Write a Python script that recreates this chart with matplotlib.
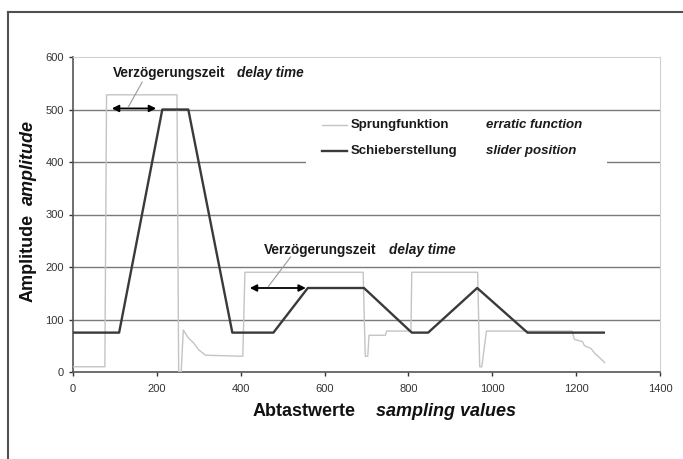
import matplotlib
matplotlib.use("Agg")
import matplotlib.pyplot as plt
from matplotlib.lines import Line2D
from matplotlib.patches import Rectangle

plt.rcParams['font.family'] = ['Liberation Sans', 'DejaVu Sans']

# Sprungfunktion (erratic function) - Eckpunkte aus dem Bild gelesen
sprung_x = [0, 76, 80, 248, 252, 258, 263, 275, 288, 300, 316, 405, 410,
            692, 697, 703, 706, 745, 748, 806, 808, 965, 970, 975, 986,
            1190, 1196, 1215, 1220, 1235, 1245, 1255, 1268]
sprung_y = [10, 10, 528, 528, 0, 0, 80, 65, 55, 42, 32, 30, 190,
            190, 30, 30, 70, 70, 78, 78, 190, 190, 10, 10, 78,
            78, 62, 58, 50, 45, 35, 28, 18]

# Schieberstellung (slider position)
slider_x = [0, 110, 213, 275, 380, 478, 560, 694, 808, 847, 964, 1084, 1266]
slider_y = [75, 75, 500, 500, 75, 75, 160, 160, 75, 75, 160, 75, 75]

yticks = [0, 100, 200, 300, 400, 500, 600]
xticks = [0, 200, 400, 600, 800, 1000, 1200, 1400]

fig = plt.figure(figsize=(6.83, 4.59), dpi=100)
ax = fig.add_axes([73/683, 1-372/459, (660-73)/683, (372-57)/459])

# Gitterlinien
for yv in yticks[1:-1]:
    ax.axhline(yv, color='#7a7a7a', lw=1.0, zorder=1)

ax.plot(sprung_x, sprung_y, color='#c4c4c4', lw=1.0, zorder=3)
ax.plot(slider_x, slider_y, color='#3a3a3a', lw=1.7, zorder=4)

ax.set_xlim(0, 1400)
ax.set_ylim(0, 600)
ax.set_xticks(xticks)
ax.set_yticks(yticks)
ax.tick_params(axis='both', labelsize=8, colors='#333333', length=3, width=1)
ax.tick_params(axis='x', pad=6)
for s in ['top', 'right']:
    ax.spines[s].set_color('#d0d0d0')
for s in ['left', 'bottom']:
    ax.spines[s].set_color('#555555')
    ax.spines[s].set_linewidth(1.2)

txt = dict(fontweight='bold', va='center', color='#1a1a1a')

# Legende (weisser Kasten ueber den Gitterlinien)
ax.add_patch(Rectangle((555, 394), 718, 101, facecolor='white', edgecolor='none', zorder=2))
ax.plot([593, 653], [470, 470], color='#c4c4c4', lw=1.0, zorder=3)
ax.plot([593, 653], [421, 421], color='#3a3a3a', lw=1.7, zorder=3)
ax.text(663, 470, 'Sprungfunktion', fontsize=9.5, **txt)
ax.text(986, 470, 'erratic function', fontsize=9.5, style='italic', **txt)
ax.text(663, 421, 'Schieberstellung', fontsize=9.5, **txt)
ax.text(986, 421, 'slider position', fontsize=9.5, style='italic', **txt)

# Verzoegerungszeit 1
ax.annotate('', xy=(86, 502), xytext=(205, 502),
            arrowprops=dict(arrowstyle='<|-|>', color='black', lw=1.3, mutation_scale=10), zorder=5)
ax.plot([165, 132], [552, 505], color='#999999', lw=0.8, zorder=5)
ax.text(96, 570, 'Verzögerungszeit', fontsize=9.8, **txt)
ax.text(392, 570, 'delay time', fontsize=9.8, style='italic', **txt)

# Verzoegerungszeit 2
ax.annotate('', xy=(415, 160), xytext=(562, 160),
            arrowprops=dict(arrowstyle='<|-|>', color='black', lw=1.3, mutation_scale=10), zorder=5)
ax.plot([519, 466], [219, 163], color='#999999', lw=0.8, zorder=5)
ax.text(455, 232, 'Verzögerungszeit', fontsize=9.8, **txt)
ax.text(754, 232, 'delay time', fontsize=9.8, style='italic', **txt)

# Achsenbeschriftungen
fig.text(356/683, 1-411/459, 'Abtastwerte', fontsize=13, fontweight='bold', ha='right', va='center', color='#111111')
fig.text(376/683, 1-411/459, 'sampling values', fontsize=13, fontweight='bold', style='italic', ha='left', va='center', color='#111111')
fig.text(28/683, 1-214/459, 'Amplitude', fontsize=13, fontweight='bold', rotation=90, ha='center', va='top', color='#111111')
fig.text(28/683, 1-205/459, 'amplitude', fontsize=13, fontweight='bold', style='italic', rotation=90, ha='center', va='bottom', color='#111111')

# Rahmen um die Grafik
fig.add_artist(Line2D([8/683, 8/683], [0, 1-12/459], color='#505050', lw=1.5))
fig.add_artist(Line2D([8/683, 1], [1-12/459, 1-12/459], color='#505050', lw=1.5))

fig.savefig('out.png', dpi=100)
